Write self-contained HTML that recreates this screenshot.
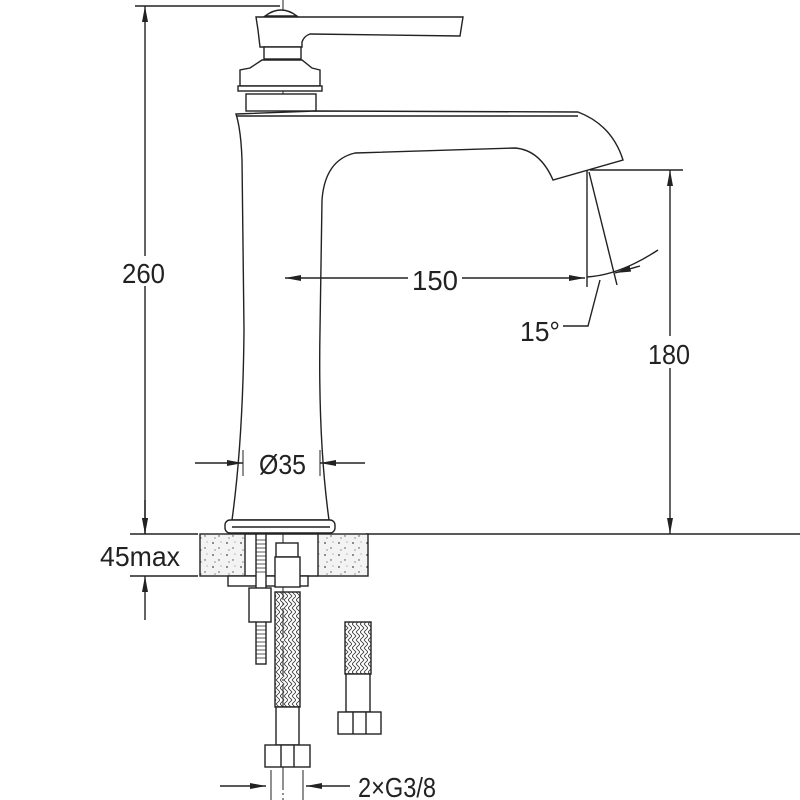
<!DOCTYPE html>
<html><head><style>body{margin:0;background:#fff}svg{display:block}text{font-family:"Liberation Sans",sans-serif;font-size:28px;fill:#222}</style></head>
<body>
<svg width="800" height="800" viewBox="0 0 800 800" xmlns="http://www.w3.org/2000/svg">
<defs>
<marker id="b" viewBox="0 0 16 6" refX="16" refY="3" markerWidth="16" markerHeight="6" orient="auto-start-reverse" markerUnits="userSpaceOnUse"><path d="M0,0L16,3L0,6z" fill="#222"/></marker>
<pattern id="br" width="8" height="8" patternUnits="userSpaceOnUse"><path d="M0,0L4,4L0,8M4,0L8,4L4,8" stroke="#333" fill="none" stroke-width="0.8"/></pattern>
<pattern id="sp" width="14" height="12" patternUnits="userSpaceOnUse"><rect width="14" height="12" fill="#f3f3f3"/><circle cx="3" cy="3" r="0.9" fill="#444"/><circle cx="9" cy="8" r="0.7" fill="#444"/><circle cx="11" cy="2" r="0.5" fill="#666"/><circle cx="5" cy="10" r="0.6" fill="#555"/></pattern>
</defs>
<g stroke="#222" stroke-width="1.4" fill="none">
<line x1="283" y1="0" x2="283" y2="800" stroke-width="1" stroke-dasharray="30,3,2,3"/>
<line x1="135" y1="6" x2="280" y2="6"/>
<line x1="145" y1="6" x2="145" y2="534" marker-start="url(#b)" marker-end="url(#b)"/>
<line x1="130" y1="534" x2="198" y2="534"/>
<line x1="366" y1="534" x2="800" y2="534"/>
<line x1="130" y1="576" x2="198" y2="576"/>
<line x1="145" y1="500" x2="145" y2="534" marker-end="url(#b)"/>
<line x1="145" y1="620" x2="145" y2="576" marker-end="url(#b)"/>
<rect x="200" y="534" width="45" height="42" fill="url(#sp)"/>
<rect x="318" y="534" width="50" height="42" fill="url(#sp)"/>
<line x1="245" y1="534" x2="318" y2="534"/>
<line x1="245" y1="576" x2="318" y2="576"/>
<path d="M265,16 Q281,4 297,16 Z" fill="#fff"/>
<path d="M256,17 L463,17 L460,36 L310,34 Q304,36 302,42 L302,47 L260,47 L258,30 Z" fill="#fff"/>
<rect x="264" y="47" width="37" height="12" fill="#fff"/>
<path d="M262,60 L302,60 L312,68 L320,70 L320,86 L240,86 L240,70 L250,68 Z" fill="#fff"/>
<rect x="238" y="86" width="84" height="5" fill="#fff"/>
<rect x="246" y="94" width="70" height="17" fill="#fff"/>
<path d="M236,114 L315,111 L578,112 Q612,125 623,160 L553,180 Q540,150 515,148 L355,153 Q325,160 322,200 L320,330 Q318,440 329,520 L232,520 Q243,440 244,330 L242,160 Q241,130 236,114 Z" fill="#fff"/>
<path d="M236,116 L578,116"/>
<rect x="225" y="520" width="110" height="13" rx="5" fill="#fff"/>
<line x1="232" y1="527" x2="330" y2="527"/>
<line x1="285" y1="278" x2="585" y2="278" marker-start="url(#b)" marker-end="url(#b)"/>
<line x1="587" y1="170" x2="587" y2="287"/>
<line x1="589" y1="172" x2="617" y2="285"/>
<path d="M587,277 Q620,275 658,250"/>
<line x1="640" y1="266" x2="615" y2="273" marker-end="url(#b)"/>
<path d="M600,280 L588,326 L563,326"/>
<line x1="590" y1="170" x2="683" y2="170"/>
<line x1="670" y1="170" x2="670" y2="534" marker-start="url(#b)" marker-end="url(#b)"/>
<line x1="195" y1="463" x2="243" y2="463" marker-end="url(#b)"/>
<line x1="365" y1="463" x2="320" y2="463" marker-end="url(#b)"/>
<line x1="243" y1="450" x2="243" y2="476" stroke-width="1"/>
<line x1="320" y1="450" x2="320" y2="476" stroke-width="1"/>
<rect x="228" y="576" width="80" height="10" fill="#fff"/>
<rect x="256" y="534" width="10" height="130" fill="#fff"/>
<path d="M256,540 h10 M256,544 h10 M256,548 h10 M256,552 h10 M256,556 h10 M256,560 h10 M256,564 h10 M256,568 h10 M256,572 h10 M256,626 h10 M256,630 h10 M256,634 h10 M256,638 h10 M256,642 h10 M256,646 h10 M256,650 h10 M256,654 h10 M256,658 h10" stroke-width="0.8"/>
<rect x="249" y="588" width="22" height="34" fill="#fff"/>
<rect x="276" y="543" width="22" height="14" fill="#fff"/>
<rect x="275" y="557" width="25" height="30" fill="#fff"/>
<rect x="275" y="592" width="25" height="115" fill="url(#br)"/>
<rect x="276" y="707" width="23" height="38" fill="#fff"/>
<rect x="265" y="745" width="45" height="22" fill="#fff"/>
<line x1="281" y1="745" x2="281" y2="767"/><line x1="294" y1="745" x2="294" y2="767"/>
<rect x="345" y="622" width="26" height="52" fill="url(#br)"/>
<rect x="346" y="674" width="24" height="38" fill="#fff"/>
<rect x="338" y="712" width="43" height="22" fill="#fff"/>
<line x1="353" y1="712" x2="353" y2="734"/><line x1="366" y1="712" x2="366" y2="734"/>
<line x1="220" y1="786" x2="266" y2="786" marker-end="url(#b)"/>
<line x1="350" y1="786" x2="306" y2="786" marker-end="url(#b)"/>
<line x1="271" y1="770" x2="271" y2="800" stroke-width="1"/>
<line x1="303" y1="770" x2="303" y2="800" stroke-width="1"/>
</g>
<g>
<rect x="120" y="256" width="48" height="30" fill="#fff"/>
<text x="122" y="283" textLength="43" lengthAdjust="spacingAndGlyphs">260</text>
<rect x="408" y="263" width="54" height="30" fill="#fff"/>
<text x="412" y="290" textLength="46" lengthAdjust="spacingAndGlyphs">150</text>
<text x="520" y="341" textLength="40" lengthAdjust="spacingAndGlyphs">15°</text>
<rect x="645" y="336" width="50" height="32" fill="#fff"/>
<text x="648" y="364" textLength="42" lengthAdjust="spacingAndGlyphs">180</text>
<rect x="252" y="450" width="62" height="28" fill="#fff"/>
<text x="259" y="474" textLength="47" lengthAdjust="spacingAndGlyphs">Ø35</text>
<text x="100" y="566" textLength="80" lengthAdjust="spacingAndGlyphs">45max</text>
<text x="358" y="797" textLength="78" lengthAdjust="spacingAndGlyphs">2×G3/8</text>
</g>
</svg>
</body></html>
